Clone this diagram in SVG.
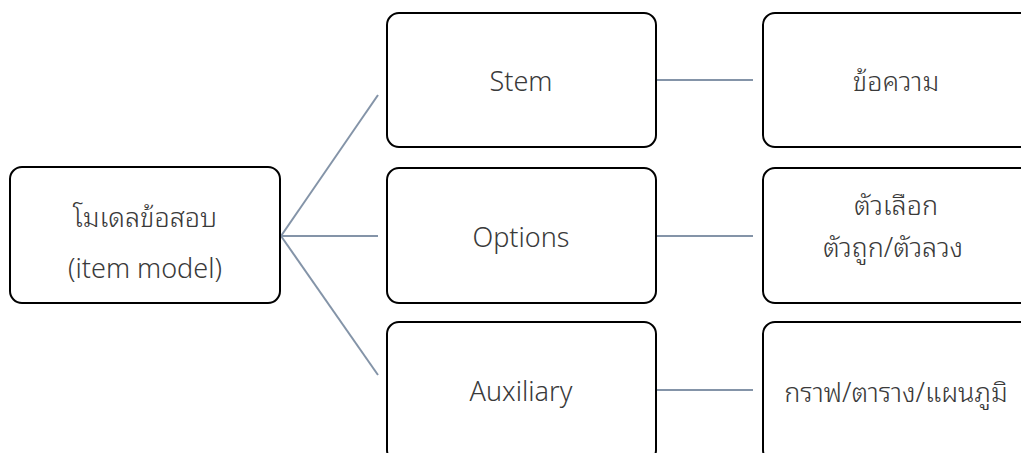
<svg xmlns="http://www.w3.org/2000/svg" width="1021" height="453" viewBox="0 0 1021 453">
<style>
.box{fill:#fff;stroke:#000;stroke-width:2}
.t{font-family:"Noto Sans","DejaVu Sans",sans-serif;font-size:27px;font-weight:300;fill:#3a3a3a;text-anchor:middle}
.th{font-family:"Noto Sans Thai Looped","Loma","Garuda","Noto Sans Thai",sans-serif;font-size:27px;font-weight:300;fill:#3a3a3a;text-anchor:middle}
.c{stroke:#8494a8;stroke-width:2;fill:none}
</style>
<rect width="1021" height="453" fill="#fff"/>
<g id="connectors">
<line class="c" x1="281" y1="236" x2="378" y2="95"/>
<line class="c" x1="281" y1="236" x2="378" y2="236"/>
<line class="c" x1="281" y1="236" x2="378" y2="375"/>
<line class="c" x1="657" y1="80" x2="753" y2="80"/>
<line class="c" x1="657" y1="236" x2="753" y2="236"/>
<line class="c" x1="657" y1="390" x2="753" y2="390"/>
</g>
<g id="root"><rect class="box" x="10" y="167" width="270" height="136" rx="12"/>
<text class="th" x="145" y="227">โมเดลข้อสอบ</text>
<text class="t" x="145" y="278">(item model)</text></g>
<g id="stem"><rect class="box" x="387" y="13" width="269" height="134" rx="12"/>
<text class="t" x="521" y="91">Stem</text></g>
<g id="options"><rect class="box" x="387" y="168" width="269" height="135" rx="12"/>
<text class="t" x="521" y="247">Options</text></g>
<g id="auxiliary"><rect class="box" x="387" y="322" width="269" height="140" rx="12"/>
<text class="t" x="521" y="401">Auxiliary</text></g>
<g id="text-msg"><rect class="box" x="763" y="13" width="269" height="134" rx="12"/>
<text class="th" x="896" y="91">ข้อความ</text></g>
<g id="choices"><rect class="box" x="763" y="168" width="269" height="135" rx="12"/>
<text class="th" x="896" y="215">ตัวเลือก</text>
<text class="th" x="893" y="257">ตัวถูก/ตัวลวง</text></g>
<g id="graphs"><rect class="box" x="763" y="322" width="269" height="140" rx="12"/>
<text class="th" x="896" y="402">กราฟ/ตาราง/แผนภูมิ</text></g>
</svg>
